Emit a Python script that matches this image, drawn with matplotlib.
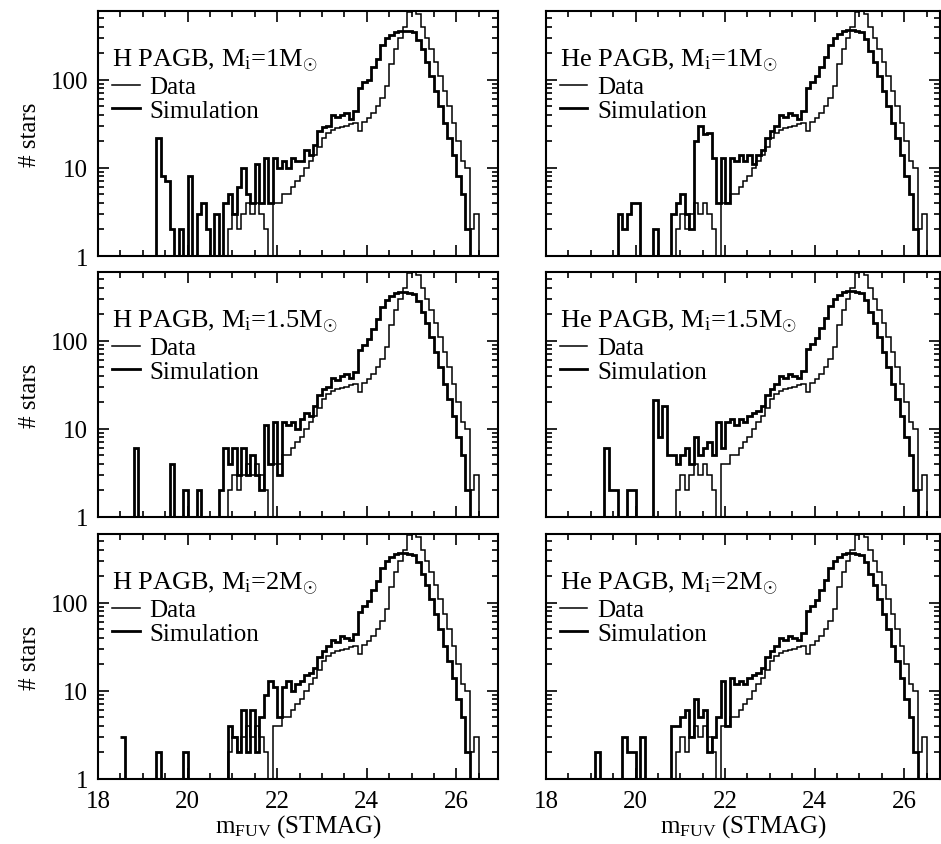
import numpy as np
import matplotlib.pyplot as plt
from matplotlib.lines import Line2D
from matplotlib.ticker import MultipleLocator, FixedLocator, LogLocator, NullFormatter

plt.rcParams['font.family'] = ['Liberation Serif', 'DejaVu Serif']
plt.rcParams['mathtext.fontset'] = 'custom'
plt.rcParams['mathtext.rm'] = 'Liberation Serif'
plt.rcParams['mathtext.it'] = 'Liberation Serif:italic'

# bin edges in m_FUV, 0.1 mag bins from 18.5 to 26.8
edges = np.arange(185, 269) / 10.0

# observed counts (same catalogue in every panel), rows of 10 bins from 18.5
data_counts = [
    0, 0, 0, 0, 0, 0, 0, 0, 0, 0,            # 18.5 - 19.4
    0, 0, 0, 0, 0, 0, 0, 0, 0, 0,            # 19.5 - 20.4
    0, 0, 0, 0, 2, 3, 2, 3, 4, 3,            # 20.5 - 21.4
    4, 3, 2, 0, 4, 4, 5, 5, 6, 7,            # 21.5 - 22.4
    8, 10, 12, 14, 17, 22, 25, 27, 28, 29,   # 22.5 - 23.4
    30, 31, 32, 26, 33, 37, 42, 50, 62, 85,  # 23.5 - 24.4
    150, 220, 300, 400, 580, 620, 550, 400, 300, 220,  # 24.5 - 25.4
    160, 110, 75, 50, 32, 20, 12, 10, 2, 3,  # 25.5 - 26.4
    0, 0, 0,                                 # 26.5 - 26.7
]

sim_h_1 = [
    0, 0, 0, 0, 0, 0, 0, 0, 22, 8,
    7, 2, 0, 2, 0, 8, 0, 3, 4, 2,
    0, 3, 0, 4, 5, 3, 6, 10, 5, 4,
    11, 4, 13, 4, 13, 10, 12, 10, 13, 12,
    12, 16, 14, 18, 26, 29, 30, 40, 38, 40,
    42, 36, 44, 80, 95, 100, 140, 170, 250, 300,
    320, 350, 360, 360, 360, 350, 280, 220, 160, 110,
    75, 50, 32, 22, 14, 8, 5, 2, 0, 0,
    0, 0, 0,
]

sim_he_1 = [
    0, 0, 0, 0, 0, 0, 0, 0, 0, 0,
    0, 3, 2, 3, 4, 4, 0, 0, 0, 2,
    0, 0, 0, 3, 4, 5, 3, 2, 20, 30,
    24, 25, 13, 4, 13, 4, 13, 12, 14, 12,
    14, 11, 14, 16, 22, 26, 30, 40, 38, 42,
    40, 36, 44, 80, 95, 110, 140, 180, 250, 300,
    330, 360, 370, 370, 360, 350, 290, 210, 160, 110,
    75, 50, 32, 22, 14, 8, 5, 2, 0, 0,
    0, 0, 0,
]

sim_h_15 = [
    0, 0, 0, 6, 0, 0, 0, 0, 0, 0,
    0, 4, 0, 0, 2, 0, 0, 2, 0, 0,
    0, 0, 2, 6, 4, 6, 3, 6, 3, 5,
    3, 2, 11, 4, 12, 3, 12, 11, 12, 10,
    13, 15, 14, 18, 24, 28, 30, 38, 36, 40,
    42, 38, 44, 78, 90, 105, 135, 175, 240, 290,
    320, 350, 360, 360, 350, 340, 280, 210, 160, 110,
    75, 50, 32, 22, 14, 8, 5, 2, 0, 0,
    0, 0, 0,
]

sim_he_15 = [
    0, 0, 0, 0, 0, 0, 0, 0, 6, 2,
    2, 0, 0, 2, 2, 0, 0, 0, 0, 21,
    8, 18, 5, 5, 4, 5, 6, 4, 8, 5,
    6, 7, 5, 12, 6, 12, 13, 11, 13, 12,
    14, 15, 16, 18, 24, 28, 32, 40, 38, 42,
    40, 38, 45, 80, 92, 108, 140, 180, 250, 300,
    330, 360, 370, 370, 360, 350, 290, 210, 160, 110,
    75, 50, 32, 22, 14, 8, 5, 2, 0, 0,
    0, 0, 0,
]

sim_h_2 = [
    3, 0, 0, 0, 0, 0, 0, 0, 2, 0,
    0, 0, 0, 0, 2, 0, 0, 0, 0, 0,
    0, 0, 0, 0, 4, 3, 2, 6, 2, 6,
    2, 5, 9, 13, 11, 5, 11, 13, 10, 12,
    13, 15, 16, 18, 24, 28, 32, 38, 36, 42,
    40, 38, 44, 78, 92, 105, 140, 175, 245, 300,
    330, 360, 370, 370, 360, 350, 290, 210, 160, 110,
    75, 50, 32, 22, 14, 8, 5, 2, 0, 0,
    0, 0, 0,
]

sim_he_2 = [
    0, 0, 0, 0, 0, 0, 2, 0, 0, 0,
    0, 0, 3, 2, 2, 0, 3, 0, 0, 0,
    0, 0, 0, 4, 4, 5, 6, 3, 8, 5,
    6, 2, 3, 5, 13, 4, 14, 12, 13, 12,
    14, 15, 16, 18, 24, 28, 32, 40, 38, 42,
    40, 38, 45, 80, 92, 108, 140, 180, 250, 300,
    330, 360, 370, 370, 360, 350, 290, 210, 160, 110,
    75, 50, 32, 22, 14, 8, 5, 2, 0, 0,
    0, 0, 0,
]

panel_titles = [
    [r'H PAGB, M$_\mathrm{i}$=1M$_{\odot}$', r'He PAGB, M$_\mathrm{i}$=1M$_{\odot}$'],
    [r'H PAGB, M$_\mathrm{i}$=1.5M$_{\odot}$', r'He PAGB, M$_\mathrm{i}$=1.5M$_{\odot}$'],
    [r'H PAGB, M$_\mathrm{i}$=2M$_{\odot}$', r'He PAGB, M$_\mathrm{i}$=2M$_{\odot}$'],
]
panel_sims = [
    [sim_h_1, sim_he_1],
    [sim_h_15, sim_he_15],
    [sim_h_2, sim_he_2],
]

W, H = 941, 845
fig = plt.figure(figsize=(W / 100, H / 100), dpi=100)

col_x = [98, 546]
col_w = [400, 394]
col_xmax = [26.93, 26.8]
row_top = [12, 273, 535]
row_h = 245

for r in range(3):
    for c in range(2):
        ax = fig.add_axes([col_x[c] / W, 1 - (row_top[r] + row_h) / H,
                           col_w[c] / W, row_h / H])
        data = np.maximum(np.array(data_counts, float), 0.3)
        sim = np.maximum(np.array(panel_sims[r][c], float), 0.3)
        ax.stairs(data, edges, baseline=None, color='k', lw=1.1)
        ax.stairs(sim, edges, baseline=None, color='k', lw=2.0)

        ax.set_yscale('log')
        ax.set_ylim(1, 600)
        ax.set_xlim(18, col_xmax[c])

        ax.xaxis.set_major_locator(MultipleLocator(2))
        ax.xaxis.set_minor_locator(MultipleLocator(0.5))
        ax.yaxis.set_major_locator(FixedLocator([1, 10, 100]))
        ax.yaxis.set_minor_locator(LogLocator(base=10, subs=np.arange(2, 10)))
        ax.yaxis.set_minor_formatter(NullFormatter())
        ax.set_yticklabels(['1', '10', '100'])

        ax.tick_params(which='both', direction='in', top=True, right=True,
                       width=1.2, labelsize=18)
        ax.tick_params(which='major', length=8, pad=7)
        ax.tick_params(which='minor', length=4)
        ax.tick_params(axis='x', which='major', pad=8)
        if c == 1:
            ax.tick_params(labelleft=False)
        if r < 2:
            ax.tick_params(labelbottom=False)
        else:
            ax.set_xlabel(r'm$_\mathrm{FUV}$ (STMAG)', fontsize=18, labelpad=0)
        for sp in ax.spines.values():
            sp.set_linewidth(1.5)

        ax.text(0.035, 0.775, panel_titles[r][c], transform=ax.transAxes,
                fontsize=19, ha='left', va='baseline')
        handles = [Line2D([], [], color='k', lw=1.1),
                   Line2D([], [], color='k', lw=2.0)]
        ax.legend(handles, ['Data', 'Simulation'], loc='upper left',
                  bbox_to_anchor=(0.035, 0.735), frameon=False, fontsize=18,
                  handlelength=1.1, handletextpad=0.4, labelspacing=0.05,
                  borderpad=0, borderaxespad=0)

    fig.text(30 / W, 1 - (row_top[r] + row_h / 2) / H, '# stars',
             rotation=90, ha='center', va='center', fontsize=18)

fig.savefig('out.png', dpi=100, facecolor='white')
